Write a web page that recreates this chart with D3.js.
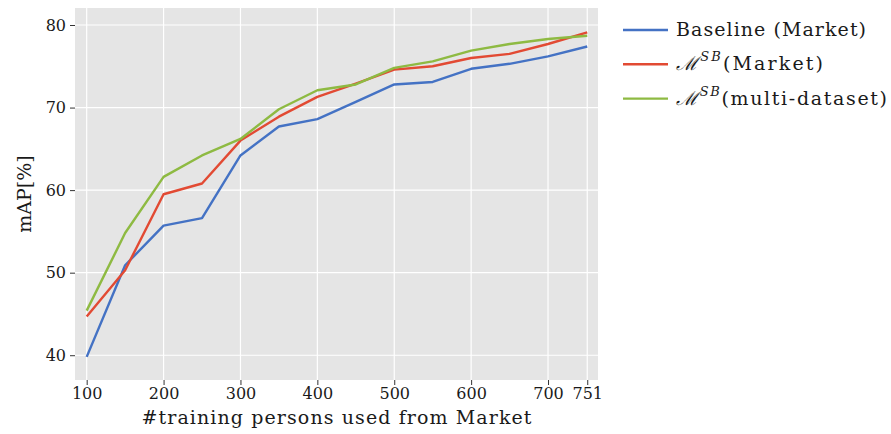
<!DOCTYPE html>
<html><head><meta charset="utf-8">
<script src="https://cdn.jsdelivr.net/npm/d3@7"></script>
<style>body{margin:0;background:#fff}svg{display:block}text{font-family:"DejaVu Serif",serif;fill:#1a1a1a}</style>
</head><body><svg id="c" width="891" height="434"></svg>
<script>
const persons = [100,150,200,250,300,350,400,450,500,550,600,650,700,751];
const baseline = [39.8,50.9,55.7,56.6,64.2,67.7,68.6,70.7,72.8,73.1,74.7,75.3,76.2,77.4];
const sbMarket = [44.7,50.3,59.5,60.8,66.0,68.9,71.3,72.9,74.6,75.0,76.0,76.5,77.7,79.1];
const sbMulti  = [45.4,54.8,61.6,64.2,66.2,69.8,72.1,72.8,74.8,75.6,76.9,77.7,78.3,78.7];
const xTicks = [100,200,300,400,500,600,700,751];
const yTicks = [40,50,60,70,80];
const series = [
  {name:"Baseline (Market)", values:baseline, color:"#4472C4", w:190},
  {name:"(Market)", values:sbMarket, color:"#E24A33", sb:true, w:147},
  {name:"(multi-dataset)", values:sbMulti, color:"#8EBA42", sb:true, w:211}
];
const svg = d3.select("#c");
const L=75,R=598,T=8,B=380;
const x = d3.scaleLinear().domain([84.8,765]).range([L,R]);
const y = d3.scaleLinear().domain([37.0,82.06]).range([B,T]);
svg.append("rect").attr("x",L).attr("y",T).attr("width",R-L).attr("height",B-T).attr("fill","#E5E5E5");
const g = svg.append("g");
g.selectAll(".vg").data(xTicks).join("line").attr("x1",d=>x(d)).attr("x2",d=>x(d)).attr("y1",T).attr("y2",B).attr("stroke","#fff").attr("stroke-width",1.2);
g.selectAll(".hg").data(yTicks).join("line").attr("y1",d=>y(d)).attr("y2",d=>y(d)).attr("x1",L).attr("x2",R).attr("stroke","#fff").attr("stroke-width",1.2);
const xa = svg.append("g").attr("transform",`translate(0,${B})`).call(d3.axisBottom(x).tickValues(xTicks).tickSize(5).tickPadding(3).tickFormat(d3.format("d")));
xa.select(".domain").remove();
xa.selectAll("line").attr("stroke","#333");
xa.selectAll("text").attr("font-size",16).attr("fill","#1a1a1a");
const ya = svg.append("g").attr("transform",`translate(${L},0)`).call(d3.axisLeft(y).tickValues(yTicks).tickSize(5).tickPadding(4).tickFormat(d3.format("d")));
ya.select(".domain").remove();
ya.selectAll("line").attr("stroke","#333");
ya.selectAll("text").attr("font-size",16).attr("fill","#1a1a1a");
const line = d3.line().x((d,i)=>x(persons[i])).y(d=>y(d));
series.forEach(s=>{
  svg.append("path").datum(s.values).attr("d",line).attr("fill","none").attr("stroke",s.color).attr("stroke-width",2.4).attr("stroke-linejoin","round");
});
svg.append("text").attr("x",(L+R)/2).attr("y",424).attr("text-anchor","middle").attr("font-size",19)
  .attr("textLength",390).attr("lengthAdjust","spacing").text("#training persons used from Market");
svg.append("text").attr("transform",`translate(31,${(T+B)/2}) rotate(-90)`).attr("text-anchor","middle").attr("font-size",19).text("mAP[%]");
const lg = svg.append("g");
series.forEach((s,i)=>{
  const yy = 30+i*34.3;
  lg.append("line").attr("x1",623).attr("x2",668).attr("y1",yy).attr("y2",yy).attr("stroke",s.color).attr("stroke-width",2.4);
  const t = lg.append("text").attr("x",676).attr("y",yy+6).attr("font-size",19).attr("textLength",s.w).attr("lengthAdjust","spacing");
  if(s.sb){
    t.append("tspan").attr("font-style","italic").text("ℳ");
    t.append("tspan").attr("font-style","italic").attr("font-size",13).attr("dy",-9).text("SB");
    t.append("tspan").attr("dy",9).text(s.name);
  } else t.text(s.name);
});
</script></body></html>
